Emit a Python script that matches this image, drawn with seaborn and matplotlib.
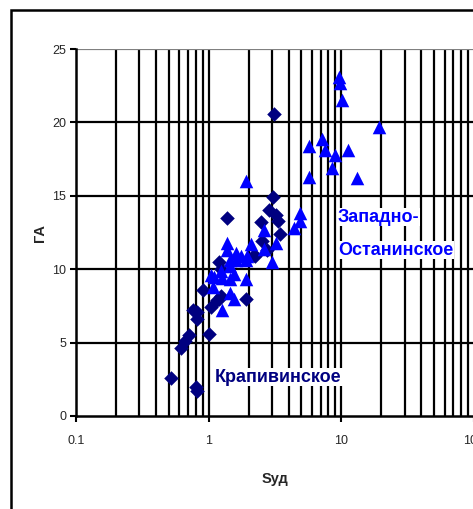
import matplotlib
matplotlib.use("Agg")
import matplotlib.pyplot as plt
from matplotlib import font_manager
from matplotlib.patches import Rectangle
import seaborn as sns
import pandas as pd

# Крапивинское (diamonds)
krap_s = [0.52, 0.80, 0.81, 0.62, 0.66, 0.71, 0.76, 0.81, 0.82, 1.00, 0.90, 1.04,
          1.16, 1.23, 1.20, 1.23, 1.37, 1.90, 2.25, 2.46, 2.53, 2.76, 2.84, 3.07,
          3.13, 3.24, 3.32, 3.44, 2.19, 1.20]
krap_ga = [2.6, 2.0, 1.7, 4.6, 5.1, 5.5, 7.2, 7.1, 6.6, 5.6, 8.6, 7.4,
           7.9, 8.2, 10.5, 10.0, 13.5, 8.0, 10.9, 13.2, 11.9, 11.3, 14.0, 14.9,
           20.6, 13.7, 13.3, 12.4, 11.0, 8.0]

# Западно-Останинское (triangles)
zo_s = [1.90, 1.38, 1.38, 1.04, 1.07, 1.10, 1.23, 1.27, 1.27, 1.46, 1.55, 1.55,
        1.46, 1.46, 1.60, 1.74, 1.95, 1.90, 1.90, 2.07, 2.60, 2.60, 3.00, 3.19,
        4.38, 4.92, 4.92, 5.67, 5.67, 7.16, 7.57, 8.52, 9.00, 9.53, 9.80, 10.1,
        11.3, 13.1, 19.1, 1.60, 1.46]
zo_ga = [16.0, 11.8, 11.3, 9.6, 8.8, 9.5, 9.9, 9.4, 7.2, 8.4, 8.0, 9.7,
         10.2, 9.3, 11.1, 10.9, 10.9, 9.3, 10.6, 11.7, 12.7, 11.4, 10.5, 11.8,
         12.8, 13.8, 13.3, 18.4, 16.3, 18.9, 18.1, 16.9, 17.8, 23.1, 22.7, 21.5,
         18.1, 16.2, 19.7, 10.6, 10.6]

x_ticks = [0.1, 1, 10, 100]
x_tick_labels = ["0.1", "1", "10", "100"]
y_ticks = [0, 5, 10, 15, 20, 25]

navy = "#000080"
blue = "#0000FF"

available = {f.name for f in font_manager.fontManager.ttflist}
narrow = "Liberation Sans Narrow" if "Liberation Sans Narrow" in available else "Liberation Sans"

sns.set_style("white")
plt.rcParams["font.family"] = [narrow, "DejaVu Sans"]

fig = plt.figure(figsize=(4.73, 5.09), dpi=100)
ax = fig.add_axes([76 / 473, 93 / 509, 398 / 473, 367 / 509])

df = pd.concat([
    pd.DataFrame({"S": zo_s, "GA": zo_ga, "field": "Западно-Останинское"}),
    pd.DataFrame({"S": krap_s, "GA": krap_ga, "field": "Крапивинское"}),
])

sns.scatterplot(data=df[df.field == "Крапивинское"], x="S", y="GA", marker="D",
                color=navy, s=55, edgecolor=navy, linewidth=0, ax=ax, zorder=3,
                legend=False)
sns.scatterplot(data=df[df.field == "Западно-Останинское"], x="S", y="GA", marker="^",
                color=blue, s=95, edgecolor=blue, linewidth=0, ax=ax, zorder=4,
                legend=False)

ax.set_xscale("log")
ax.set_xlim(0.1, 100)
ax.set_ylim(0, 25)

# vertical grid at every decade subdivision
for dec in [0.1, 1, 10]:
    for k in range(1, 10):
        v = dec * k
        if v > 0.1:
            ax.axvline(v, color="black", lw=1.6, zorder=1)
for yv in y_ticks[1:]:
    ax.axhline(yv, color="#808080" if yv == 25 else "black", lw=1.6, zorder=1)

ax.set_xticks(x_ticks)
ax.set_xticklabels(x_tick_labels)
ax.xaxis.set_minor_locator(matplotlib.ticker.NullLocator())
ax.set_yticks(y_ticks)
ax.tick_params(axis="both", which="major", direction="out", length=4, width=1.5,
               color="black", labelsize=9, pad=3, left=True, bottom=True)
ax.tick_params(axis="x", pad=10)

for side in ["top", "right"]:
    ax.spines[side].set_visible(False)
for side in ["left", "bottom"]:
    ax.spines[side].set_color("black")
    ax.spines[side].set_linewidth(1.8)

ax.set_xlabel("Sуд", fontsize=10.5, fontweight="bold", labelpad=18)
ax.set_ylabel("ГА", fontsize=10.5, fontweight="bold", labelpad=4)

ax.text(1.12, 2.65, "Крапивинское", color=navy, fontsize=13, fontweight="bold",
        va="center", ha="left", zorder=5,
        bbox=dict(facecolor="white", edgecolor="none", pad=0.5))
ax.text(9.4, 13.55, "Западно-", color=blue, fontsize=13, fontweight="bold",
        va="center", ha="left", zorder=5,
        bbox=dict(facecolor="white", edgecolor="none", pad=0.5))
ax.text(9.4, 11.3, "Останинское", color=blue, fontsize=13, fontweight="bold",
        va="center", ha="left", zorder=5,
        bbox=dict(facecolor="white", edgecolor="none", pad=0.5))

# frame around the chart area
fig.patches.append(Rectangle((11 / 473, -0.1), 1.2, (509 - 10) / 509 + 0.1,
                             transform=fig.transFigure, fill=False,
                             edgecolor="black", linewidth=1.8))

fig.savefig("out.png", dpi=100)
